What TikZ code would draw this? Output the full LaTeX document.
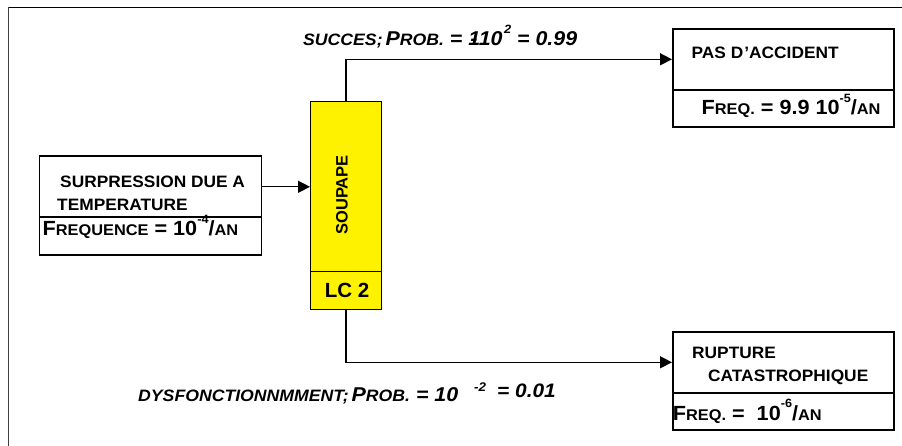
\documentclass[tikz,border=0pt]{standalone}
\usepackage{fontspec}
\setmainfont{Liberation Sans}
\newfontfamily\boxfont{Liberation Sans}[FakeStretch=1.05]
\newfontfamily\frqfont{Liberation Sans}[FakeStretch=1.055]
\newfontfamily\lblfont{Liberation Sans}[FakeStretch=1.07]
\usetikzlibrary{arrows.meta}
\newcommand\Bg[1]{{\fontsize{20.5}{22}\selectfont #1}}
\newcommand\Sm[1]{{\fontsize{15.5}{17}\selectfont #1}}
\newcommand\LBg[1]{{\fontsize{20}{22}\selectfont #1}}
\newcommand\LSm[1]{{\fontsize{16.5}{18}\selectfont #1}}
\newcommand\Sup[1]{\raisebox{0.62em}{\fontsize{12}{12}\selectfont #1}}
\tikzset{
  box/.style={draw, line width=1.6pt, rectangle, inner sep=0pt, anchor=north west},
  yel/.style={box, fill=yellow, line width=1.3pt},
  conn/.style={line width=1.4pt, -{Triangle[length=12pt,width=12pt]}},
  txt/.style={anchor=base west, inner sep=0pt, font=\boxfont\bfseries\fontsize{16.5}{18}\selectfont},
  frq/.style={anchor=base west, inner sep=0pt, font=\frqfont\bfseries},
  lbl/.style={anchor=base west, inner sep=0pt, font=\lblfont\bfseries\itshape}
}
\begin{document}
\begin{tikzpicture}[x=1pt,y=-1pt]
\useasboundingbox (0,0) rectangle (902,446);
% frame
\draw[line width=1pt, black!75] (8.5,460) -- (8.5,7.5);
\draw[line width=1pt] (8.5,7.5) -- (910,7.5);
% boxes
\node[box, minimum width=222pt, minimum height=61pt] (srcA) at (38.5,155.5) {};
\node[box, minimum width=222pt, minimum height=37.5pt] (srcB) at (38.5,216.5) {};
\node[yel, minimum width=71pt, minimum height=170pt] (soupA) at (310,101) {};
\node[yel, minimum width=71pt, minimum height=38pt] (soupB) at (310,271) {};
\node[box, minimum width=221pt, minimum height=61pt] (okA) at (672,28) {};
\node[box, minimum width=221pt, minimum height=37pt] (okB) at (672,89) {};
\node[box, minimum width=221pt, minimum height=61pt] (rupA) at (672,331) {};
\node[box, minimum width=221pt, minimum height=37pt] (rupB) at (672,392) {};
% connectors
\draw[conn] (srcA.east) -- (srcA.east -| soupA.west);
\draw[conn] (soupA.north) |- (okA.west);
\draw[conn] (soupB.south) |- (rupA.west);
% texts
\node[txt] (t1) at (60,187.5) {SURPRESSION DUE A};
\node[txt] (t2) at (57,210.5) {TEMPERATURE};
\node[frq] (t3) at (42.5,236) {\Bg{F}\Sm{REQUENCE}\Bg{ = 10\Sup{-4}/}\Sm{AN}};
\node[rotate=90, inner sep=0pt, font=\bfseries\fontsize{16.5}{18}\selectfont] (t4) at (342,195) {SOUPAPE};
\node[anchor=base, inner sep=0pt, font=\bfseries\fontsize{20.5}{22}\selectfont] (t5) at (347,298) {LC 2};
\node[txt] (t6) at (691.5,58.3) {PAS D\kern1pt’ACCIDENT};
\node[frq] (t7) at (701.5,115) {\Bg{F}\Sm{REQ.}\Bg{ = 9.9 10\Sup{-5}/}\Sm{AN}};
\node[txt] (t8) at (692,358.3) {RUPTURE};
\node[txt] (t9) at (708,381.7) {CATASTROPHIQUE};
\node[frq] (t10) at (672.7,420.7) {\Bg{F}\Sm{REQ.}\Bg{ =\ \ 10\Sup{-6}/}\Sm{AN}};
% labels
\node[lbl] (l1) at (303,45.7) {\LSm{SUCCES;} \LBg{P}\LSm{ROB.}\LBg{ =\ \makebox[0pt][l]{\kern0.1em-}110\kern1.5pt\Sup{2} = 0.99}};
\node[lbl] (l2) at (138,401) {\LSm{DYSFONCTIONNMMENT;} \LBg{P}\LSm{ROB.}\LBg{ = 10}};
\node[lbl, font=\lblfont\bfseries\itshape\fontsize{12.5}{13}\selectfont] (l3) at (474,391.5) {-2};
\node[lbl, font=\lblfont\bfseries\itshape\fontsize{19.5}{21}\selectfont] (l4) at (497,397) {= 0.01};
\end{tikzpicture}
\end{document}
